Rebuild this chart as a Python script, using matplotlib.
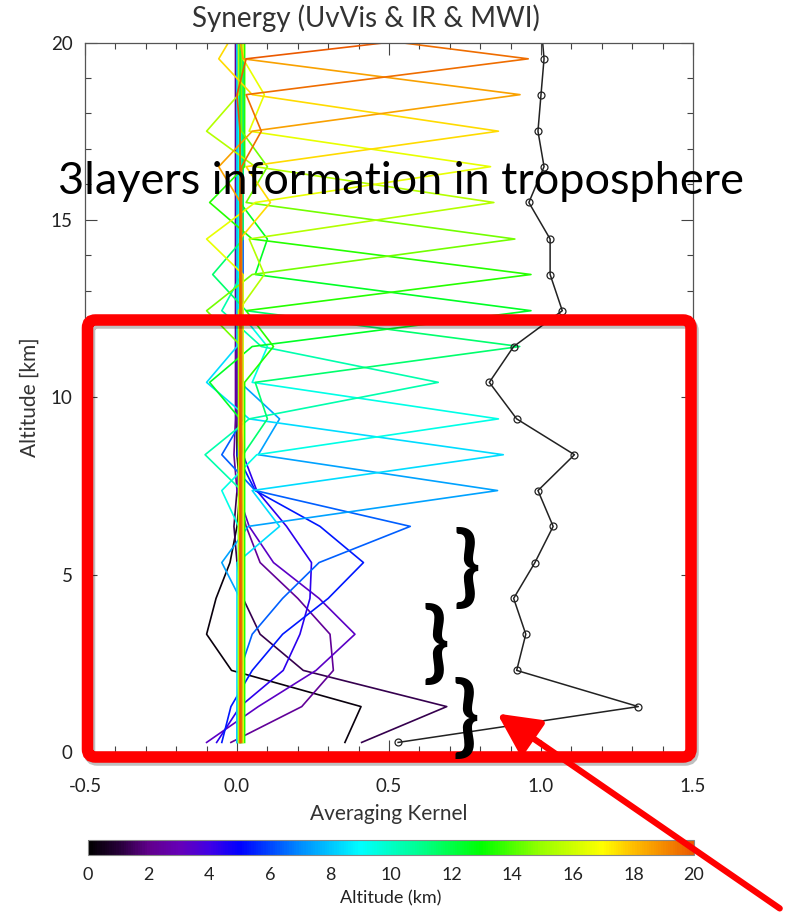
import numpy as np
import matplotlib.pyplot as plt
from matplotlib.colors import LinearSegmentedColormap, Normalize
from matplotlib.patches import FancyBboxPatch, FancyArrowPatch
from matplotlib.ticker import MultipleLocator
import matplotlib as mpl

# retrieval levels (km) and the black summed kernel with circles
alt_km = [0.27, 1.28, 2.30, 3.32, 4.33, 5.34, 6.36, 7.37, 8.38, 9.39, 10.42,
          11.43, 12.44, 13.46, 14.46, 15.49, 16.50, 17.50, 18.53, 19.54, 20.55]
ak_total = [0.53, 1.32, 0.92, 0.95, 0.91, 0.98, 1.04, 0.99, 1.11, 0.92, 0.83,
            0.91, 1.07, 1.03, 1.03, 0.96, 1.01, 0.99, 1.00, 1.01, 1.00]

# lowest kernels, values from level 0 upwards
ak_low = [
    [0.355, 0.408, -0.018, -0.100, -0.069, -0.023, 0.000, 0.010, 0.000],
    [0.410, 0.690, 0.218, 0.076, 0.020, 0.000, -0.010, 0.000, 0.010],
    [-0.020, 0.213, 0.317, 0.306, 0.200, 0.076, 0.030, 0.000, -0.010],
    [-0.100, 0.070, 0.260, 0.388, 0.270, 0.120, 0.040, 0.000, 0.010],
    [-0.067, 0.010, 0.152, 0.207, 0.240, 0.245, 0.163, 0.065, 0.020],
    [-0.050, -0.020, 0.050, 0.150, 0.300, 0.416, 0.273, 0.060, 0.000],
    [0.000, 0.000, 0.010, 0.050, 0.150, 0.270, 0.570, 0.060, -0.050, 0.020],
]

# kernels of levels 7..20: peak and neighbour values
peak_up = [0.857, 0.876, 0.860, 0.662, 0.930, 0.967, 0.967, 0.914, 0.845,
           0.834, 0.860, 0.931, 0.958, 1.050]
below1 = [0.037, 0.050, 0.065, 0.040, 0.060, 0.050, 0.030, 0.050, 0.040,
          0.060, 0.030, 0.050, 0.030, 0.030]
above1 = [0.070, 0.040, 0.050, 0.080, 0.030, 0.060, 0.050, 0.030, 0.060,
          0.040, 0.050, 0.020, 0.030, 0.000]
below2 = [-0.050, 0.140, -0.050, -0.105, 0.100, -0.090, 0.120, -0.100, 0.090,
          -0.100, 0.110, -0.060, 0.080, 0.000]
above2 = [0.140, -0.100, 0.100, -0.050, -0.080, 0.100, -0.090, 0.100, -0.100,
          0.090, -0.060, 0.000, 0.000, 0.000]
# small value each kernel keeps far from its own level
far_val = [0.000, 0.005, -0.005, 0.000, 0.010, 0.015, 0.020, 0.010, 0.000,
           0.005, 0.015, 0.020, 0.010, 0.025, 0.015, 0.005, 0.020, 0.010,
           0.012, 0.015, 0.010]

n = len(alt_km)
ak = np.zeros((n, n))
for j in range(n):
    ak[j, :] = far_val[j]
for j, row in enumerate(ak_low):
    ak[j, :len(row)] = row
for i, j in enumerate(range(len(ak_low), n)):
    ak[j, j] = peak_up[i]
    ak[j, j - 1] = below1[i]
    ak[j, j - 2] = below2[i]
    if j + 1 < n:
        ak[j, j + 1] = above1[i]
    if j + 2 < n:
        ak[j, j + 2] = above2[i]

# IDL-like rainbow
cmap = LinearSegmentedColormap.from_list('idl_rainbow', [
    (0.00, (0, 0, 0)), (0.05, (0.15, 0, 0.22)), (0.10, (0.38, 0, 0.55)),
    (0.15, (0.40, 0, 0.72)), (0.20, (0.25, 0, 0.90)), (0.25, (0, 0, 1)),
    (0.35, (0, 0.55, 1)), (0.45, (0, 1, 1)), (0.55, (0, 1, 0.55)),
    (0.65, (0, 1, 0)), (0.75, (0.6, 1, 0)), (0.85, (1, 1, 0)),
    (0.90, (1, 0.75, 0)), (1.00, (0.92, 0.35, 0))])
norm = Normalize(0, 20)

fig = plt.figure(figsize=(7.89, 9.16), dpi=100)
W, H = 789, 916
ax = fig.add_axes([85 / W, 1 - 752 / H, 608 / W, 709.5 / H])

for j in range(n):
    ax.plot(ak[j], alt_km, color=cmap(norm(alt_km[j])), lw=1.2)
ax.plot(ak_total, alt_km, color='#222222', lw=1.1, marker='o', ms=5,
        mfc='none', mew=0.9)

ax.set_xlim(-0.5, 1.5)
ax.set_ylim(0, 20)
ax.xaxis.set_minor_locator(MultipleLocator(0.1))
ax.yaxis.set_minor_locator(MultipleLocator(1))
ax.set_xticks([-0.5, 0, 0.5, 1.0, 1.5])
ax.set_xticklabels(['-0.5', '0.0', '0.5', '1.0', '1.5'])
ax.set_yticks([0, 5, 10, 15, 20])
ax.set_yticklabels(['0', '5', '10', '15', '20'])
ax.tick_params(which='both', direction='in', top=True, right=True,
               color='#444444', width=0.8, labelcolor='#222222')
ax.tick_params(which='major', length=8.5, labelsize=13.5)
ax.tick_params(which='minor', length=4.3)
ax.tick_params(axis='x', which='major', pad=19)
ax.tick_params(axis='y', which='major', pad=9)
for lab in ax.get_xticklabels() + ax.get_yticklabels():
    lab.set_family('Lato')
for s in ax.spines.values():
    s.set_color('#555555')
    s.set_linewidth(0.9)
ax.set_xlabel('Averaging Kernel', fontsize=15, family='Lato', color='#333333',
              labelpad=6)
ax.set_ylabel('Altitude [km]', fontsize=15, family='Lato', color='#333333',
              labelpad=8)

fig.text(366 / W, 1 - 18 / H, 'Synergy (UvVis & IR & MWI)', fontsize=20,
         family='Lato', color='#333333', ha='center', va='center')

# colorbar
cax = fig.add_axes([88 / W, 1 - 855 / H, 606 / W, 15 / H])
cb = fig.colorbar(mpl.cm.ScalarMappable(norm=norm, cmap=cmap), cax=cax,
                  orientation='horizontal')
cb.set_ticks(range(0, 21, 2))
cb.ax.tick_params(length=0, labelsize=13, pad=9, labelcolor='#222222')
for lab in cb.ax.get_xticklabels():
    lab.set_family('Lato')
cb.outline.set_edgecolor('#888888')
cb.outline.set_linewidth(0.8)
cb.set_label('Altitude (km)', fontsize=13, family='Lato', color='#222222',
             labelpad=5)

# annotations
fig.text(401 / W, 1 - 194 / H, '3layers information in troposphere',
         fontsize=32.5, family='Lato', color='black', ha='center',
         va='baseline')
for bx, by in [(467, 569), (436, 645), (466, 719)]:
    fig.text(bx / W, 1 - by / H, '}', fontsize=63, family='Lato',
             fontweight='bold', color='black', ha='center', va='center')

tr = fig.dpi_scale_trans
shadow = FancyBboxPatch((0.895, (H - 760) / 100), 6.035, 4.37,
                        boxstyle='round,pad=0,rounding_size=0.08',
                        transform=tr, fill=False, lw=8.3,
                        edgecolor=(0, 0, 0, 0.25))
fig.add_artist(shadow)
rect = FancyBboxPatch((0.875, (H - 757) / 100), 6.035, 4.37,
                      boxstyle='round,pad=0,rounding_size=0.08',
                      transform=tr, fill=False, lw=8.3, edgecolor='#ff0000')
fig.add_artist(rect)
arrow = FancyArrowPatch((7.82, (H - 910) / 100), (4.95, (H - 712) / 100),
                        transform=tr,
                        arrowstyle='-|>,head_length=0.9,head_width=0.45',
                        mutation_scale=28, lw=4.5, color='#ff0000')
fig.add_artist(arrow)

fig.savefig('out.png', dpi=100)
